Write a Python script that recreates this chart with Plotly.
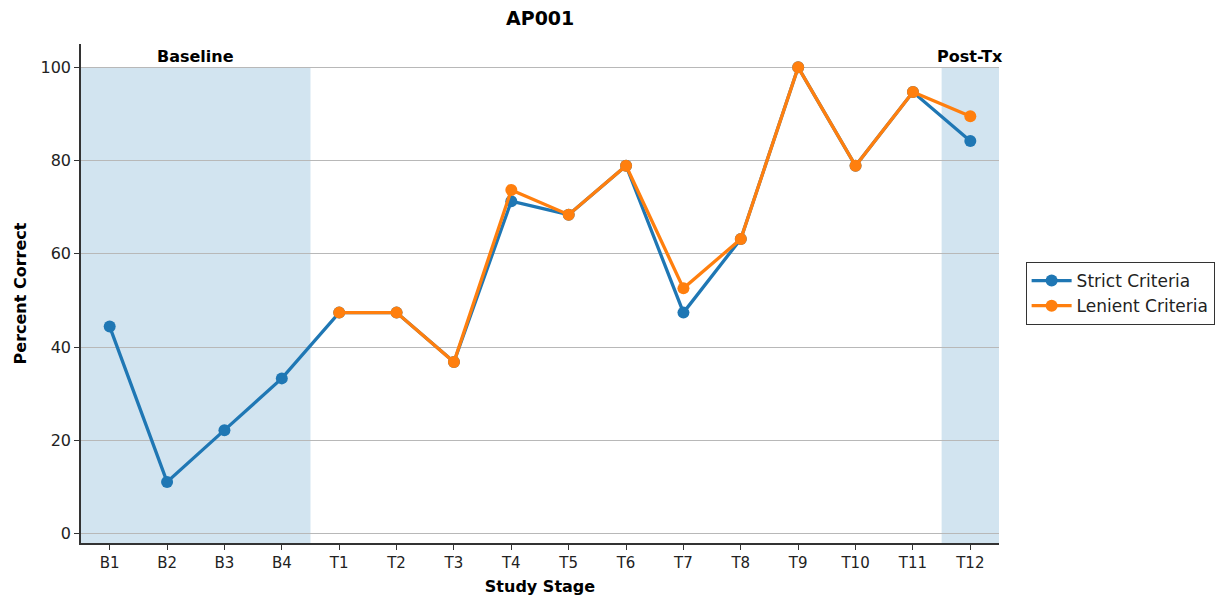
import plotly.graph_objects as go

stages = ["B1", "B2", "B3", "B4", "T1", "T2", "T3", "T4", "T5", "T6", "T7", "T8", "T9", "T10", "T11", "T12"]
strict = [44.4, 11.1, 22.2, 33.3, 47.4, 47.4, 36.8, 71.3, 68.4, 78.9, 47.4, 63.2, 100.0, 78.9, 94.7, 84.2]
lenient_stages = ["T1", "T2", "T3", "T4", "T5", "T6", "T7", "T8", "T9", "T10", "T11", "T12"]
lenient = [47.4, 47.4, 36.8, 73.7, 68.4, 78.9, 52.6, 63.2, 100.0, 78.9, 94.7, 89.5]
y_ticks = [0, 20, 40, 60, 80, 100]

idx = {s: i for i, s in enumerate(stages)}
FONT = "DejaVu Sans"
BLUE = "#1f77b4"
ORANGE = "#ff7f0e"
SHADE = "rgba(31,119,180,0.2)"

fig = go.Figure()
fig.add_trace(go.Scatter(
    x=[idx[s] for s in stages], y=strict, mode="lines+markers", name="Strict Criteria",
    line=dict(color=BLUE, width=3.3), marker=dict(size=12, color=BLUE)))
fig.add_trace(go.Scatter(
    x=[idx[s] for s in lenient_stages], y=lenient, mode="lines+markers", name="Lenient Criteria",
    line=dict(color=ORANGE, width=3.3), marker=dict(size=12, color=ORANGE)))

# shaded phases
fig.add_shape(type="rect", xref="x", yref="y", x0=-0.5, x1=3.5, y0=-2, y1=100,
              fillcolor=SHADE, line=dict(width=0), layer="below")
fig.add_shape(type="rect", xref="x", yref="y", x0=14.5, x1=15.5, y0=-2, y1=100,
              fillcolor=SHADE, line=dict(width=0), layer="below")

fig.add_annotation(x=1.5, y=101, xref="x", yref="y", text="<b>Baseline</b>", showarrow=False,
                   yanchor="bottom", yshift=-5, font=dict(family=FONT, size=16, color="black"))
fig.add_annotation(x=15, y=101, xref="x", yref="y", text="<b>Post-Tx</b>", showarrow=False,
                   yanchor="bottom", yshift=-5, font=dict(family=FONT, size=16, color="black"))

W, H = 1223, 593
L, T, PW, PH = 73, 36, 918, 499

# title as annotation
fig.add_annotation(x=0.5, y=1, xref="paper", yref="paper", text="<b>AP001</b>", showarrow=False,
                   xanchor="center", yanchor="middle", yshift=26,
                   font=dict(family=FONT, size=19, color="black"))

fig.update_layout(
    width=W, height=H,
    paper_bgcolor="white", plot_bgcolor="white",
    margin=dict(l=L, r=W - L - PW, t=T, b=H - T - PH, autoexpand=False),
    font=dict(family=FONT, size=15, color="#222"),
    legend=dict(x=1.029, y=0.5, xanchor="left", yanchor="middle",
                bordercolor="#333", borderwidth=1, bgcolor="white", itemwidth=40,
                font=dict(family=FONT, size=17, color="#222")),
    showlegend=True,
)
fig.update_xaxes(
    automargin=False,
    range=[-0.5, 15.5], tickmode="array", tickvals=list(range(len(stages))), ticktext=stages,
    showgrid=False, zeroline=False, showline=True, linecolor="#333", linewidth=1.5,
    ticks="outside", ticklen=5, tickcolor="#333", tickwidth=1.2,
    tickfont=dict(family=FONT, size=15, color="#222"),
    title=dict(text="<b>Study Stage</b>", font=dict(family=FONT, size=16, color="black"), standoff=10),
)
fig.update_yaxes(
    automargin=False,
    range=[-2, 105], tickmode="array", tickvals=y_ticks,
    showgrid=True, gridcolor="#b8b8b8", gridwidth=1.2, zeroline=False,
    showline=True, linecolor="#333", linewidth=1.5,
    ticks="outside", ticklen=5, tickcolor="#333", tickwidth=1.2,
    tickfont=dict(family=FONT, size=16, color="#222"),
    title=dict(text="<b>Percent Correct</b>", font=dict(family=FONT, size=16, color="black"), standoff=10),
)

fig.write_html("out.html")
